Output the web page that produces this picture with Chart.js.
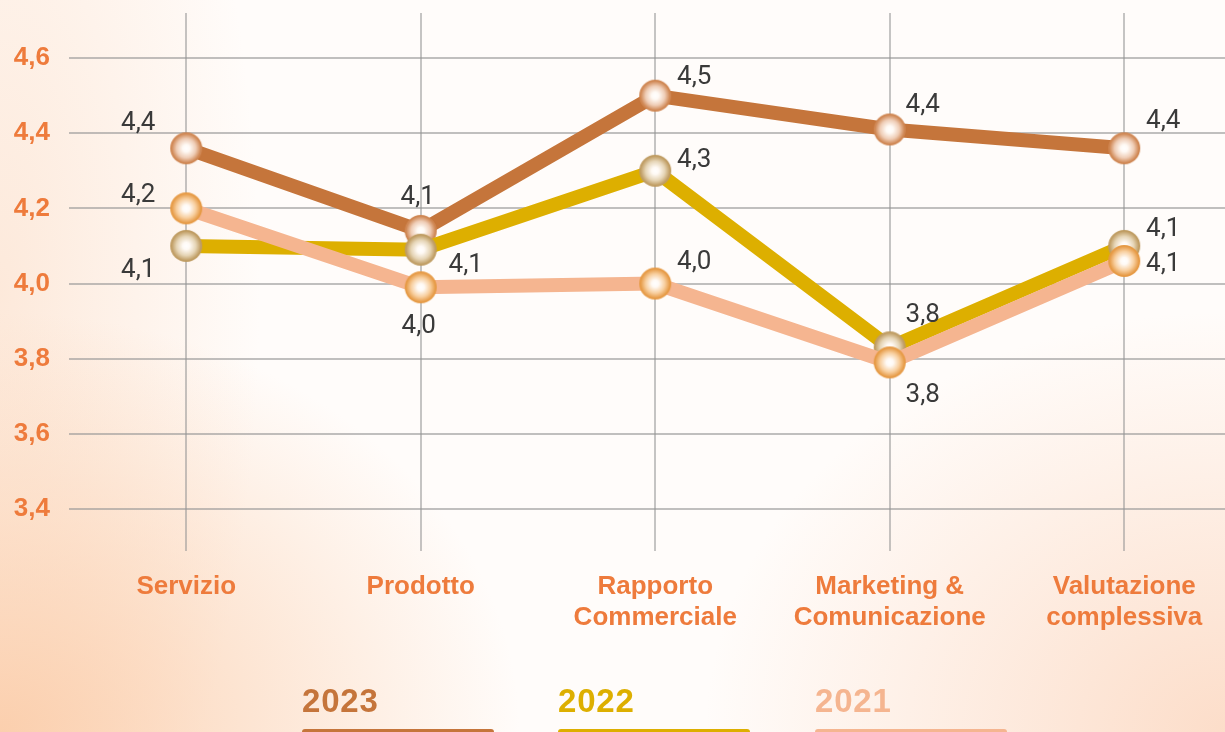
<!DOCTYPE html>
<html lang="it">
<head>
<meta charset="utf-8">
<title>Soddisfazione clienti 2021-2023</title>
<script src="https://cdn.jsdelivr.net/npm/chart.js@4.4.1/dist/chart.umd.min.js"></script>
<style>
  html, body { margin: 0; padding: 0; width: 1225px; height: 732px; overflow: hidden; }
  body {
    position: relative;
    font-family: 'Liberation Sans', Arial, sans-serif;
    background:
      radial-gradient(ellipse 520px 420px at 0% 100%, rgba(251, 205, 170, 0.95), rgba(251, 205, 170, 0) 100%),
      radial-gradient(ellipse 520px 420px at 100% 100%, rgba(252, 218, 196, 0.9), rgba(252, 218, 196, 0) 100%),
      radial-gradient(ellipse 260px 700px at 0% 40%, rgba(252, 225, 205, 0.7), rgba(252, 225, 205, 0) 100%),
      #fffcfa;
  }
  #wrap { position: absolute; left: 0; top: 0; width: 1260px; height: 732px; }
  .voce { position: absolute; top: 683px; width: 192px; }
  .voce span { display: block; font-weight: bold; font-size: 33px; line-height: 36px; letter-spacing: 0.8px; }
  .voce i { position: absolute; top: 46px; left: 0; width: 192px; height: 14px; border-radius: 3px; }
</style>
</head>
<body>
<div id="wrap"><canvas id="grafico" width="1260" height="732"></canvas></div>
<div id="legenda"></div>
<script>
// categorie (etichette su due righe dove serve)
const categorie = ['Servizio', 'Prodotto', ['Rapporto', 'Commerciale'], ['Marketing &', 'Comunicazione'], ['Valutazione', 'complessiva']];
const anni = ['2023', '2022', '2021'];
const valori2023 = [4.36, 4.14, 4.50, 4.41, 4.36];
const valori2022 = [4.10, 4.09, 4.30, 3.83, 4.10];
const valori2021 = [4.20, 3.99, 4.00, 3.79, 4.06];
const tickAsseY = [3.4, 3.6, 3.8, 4.0, 4.2, 4.4, 4.6];

const coloriLinea = ['#C5753B', '#DDAF00', '#F5B590'];
// bordo e tono intermedio delle sfere
const coloriSfera = [['#cf8652', '#efcdb6'], ['#bf9c62', '#e6d5b6'], ['#e69a45', '#f8cf9f']];

// spostamento delle etichette rispetto al punto [dx, dy]
const posEtichette = [
  [[-48, -27], [-3, -35], [39, -20], [33, -26], [39, -29]],
  [[-48, 23], [45, 14], [39, -12], [33, -34], [39, -18]],
  [[-48, -15], [-2, 37], [39, -23], [33, 31], [39, 2]]
];

const formatta = v => v.toFixed(1).replace('.', ',');

function sfera(bordo, medio) {
  const c = document.createElement('canvas');
  c.width = 34; c.height = 34;
  const g = c.getContext('2d');
  const grad = g.createRadialGradient(17, 17, 0, 17, 17, 16);
  grad.addColorStop(0, '#ffffff');
  grad.addColorStop(0.22, '#fffaf5');
  grad.addColorStop(0.6, medio);
  grad.addColorStop(0.92, bordo);
  grad.addColorStop(1, bordo);
  g.beginPath();
  g.arc(17, 17, 16, 0, Math.PI * 2);
  g.fillStyle = grad;
  g.fill();
  return c;
}

const serie = [valori2023, valori2022, valori2021];

const etichettePlugin = {
  id: 'etichette',
  afterDatasetsDraw(chart) {
    const ctx = chart.ctx;
    ctx.save();
    ctx.font = '26px Roboto, sans-serif';
    ctx.fillStyle = '#3a3a3a';
    ctx.textAlign = 'center';
    ctx.textBaseline = 'middle';
    chart.data.datasets.forEach((ds, i) => {
      const meta = chart.getDatasetMeta(i);
      meta.data.forEach((pt, j) => {
        const [dx, dy] = posEtichette[i][j];
        ctx.fillText(formatta(ds.data[j]), pt.x + dx, pt.y + dy + 2);
      });
    });
    ctx.restore();
  }
};

const arancio = '#EE7B3C';

new Chart(document.getElementById('grafico'), {
  type: 'line',
  data: {
    labels: categorie,
    datasets: anni.map((anno, i) => ({
      label: anno,
      data: serie[i],
      borderColor: coloriLinea[i],
      borderWidth: 14,
      pointStyle: sfera(coloriSfera[i][0], coloriSfera[i][1]),
      pointRadius: 16,
      order: 3 - i,
      tension: 0
    }))
  },
  options: {
    responsive: false,
    devicePixelRatio: 1,
    animation: false,
    layout: { autoPadding: false, padding: { top: 13, right: 18.5, left: 0, bottom: 0 } },
    plugins: { legend: { display: false }, tooltip: { enabled: false } },
    scales: {
      x: {
        offset: true,
        grid: { offset: false, color: 'rgba(150,150,150,0.55)', lineWidth: 2, drawTicks: false },
        border: { display: false },
        ticks: {
          color: arancio,
          padding: 20,
          font: { family: 'Liberation Sans', size: 26, weight: 'bold', lineHeight: 1.2 }
        },
        afterFit(scale) {
          scale.height = 181;
          scale.paddingLeft = 0;
          scale.paddingRight = 0;
        }
      },
      y: {
        min: 3.288,
        max: 4.72,
        afterBuildTicks(scale) { scale.ticks = tickAsseY.map(v => ({ value: v })); },
        grid: { color: 'rgba(150,150,150,0.6)', lineWidth: 2, drawTicks: false },
        border: { display: false },
        ticks: {
          color: arancio,
          padding: 19,
          font: { family: 'Liberation Sans', size: 26, weight: 'bold' },
          callback: v => formatta(v)
        },
        afterFit(scale) {
          scale.width = 69;
          scale.paddingTop = 0;
          scale.paddingBottom = 0;
        }
      }
    }
  },
  plugins: [etichettePlugin]
});

// legenda: anno sopra una barra del colore della serie
const legenda = document.getElementById('legenda');
const sinistra = [302, 558, 815];
anni.forEach((anno, i) => {
  const d = document.createElement('div');
  d.className = 'voce';
  d.style.left = sinistra[i] + 'px';
  d.innerHTML = '<span style="color:' + coloriLinea[i] + '">' + anno + '</span><i style="background:' + coloriLinea[i] + '"></i>';
  legenda.appendChild(d);
});
</script>
</body>
</html>
